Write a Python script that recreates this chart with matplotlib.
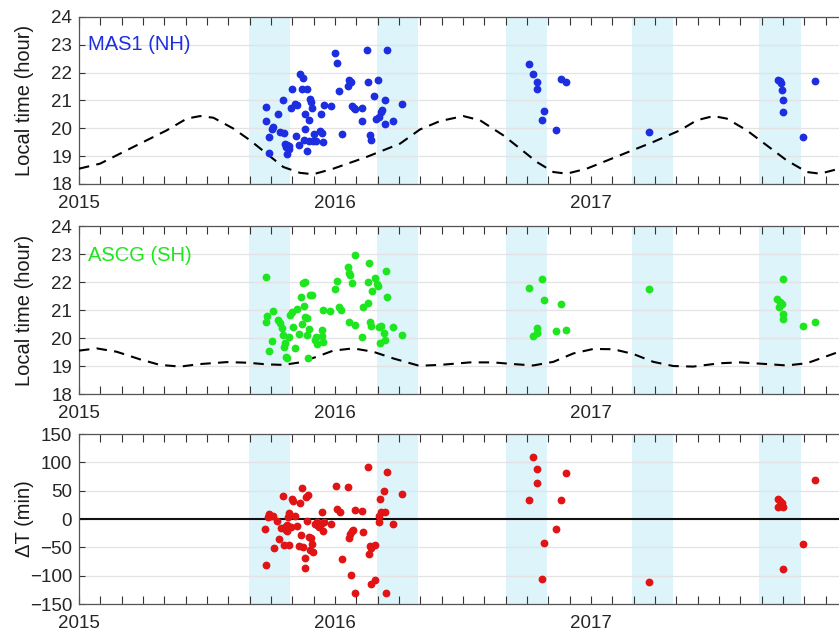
#local time of events at MAS1 (NH) and ASCG (SH) and their difference
import numpy as np
import matplotlib.pyplot as plt
from matplotlib.ticker import MultipleLocator

plt.rcParams['font.family'] = ['Liberation Sans', 'DejaVu Sans']

#shaded periods (decimal year)
shade_start = [2015.664, 2016.164, 2016.668, 2017.160, 2017.656]
shade_end = [2015.824, 2016.324, 2016.828, 2017.320, 2017.820]

#dashed reference curves (decimal year, hour)
nh_curve_t = [2015.000, 2015.082, 2015.212, 2015.343, 2015.421, 2015.473, 2015.525, 2015.603,
              2015.668, 2015.733, 2015.798, 2015.863, 2015.915, 2015.993, 2016.123, 2016.254,
              2016.332, 2016.410, 2016.501, 2016.566, 2016.657, 2016.723, 2016.788, 2016.853,
              2016.905, 2016.983, 2017.113, 2017.243, 2017.348, 2017.413, 2017.478, 2017.530,
              2017.608, 2017.686, 2017.764, 2017.843, 2017.895, 2017.969, 2018.000]
nh_curve_h = [18.55, 18.73, 19.33, 19.93, 20.35, 20.44, 20.38, 19.99,
              19.57, 19.09, 18.61, 18.40, 18.35, 18.55, 18.97, 19.45,
              19.96, 20.26, 20.44, 20.29, 19.75, 19.27, 18.79, 18.43,
              18.37, 18.55, 19.03, 19.51, 19.93, 20.29, 20.44, 20.35,
              19.93, 19.39, 18.85, 18.43, 18.37, 18.55, 18.64]

sh_curve_t = [2015.000, 2015.069, 2015.147, 2015.238, 2015.316, 2015.395, 2015.473, 2015.577,
              2015.655, 2015.733, 2015.798, 2015.863, 2015.928, 2015.993, 2016.071, 2016.149,
              2016.228, 2016.328, 2016.410, 2016.527, 2016.618, 2016.696, 2016.774, 2016.853,
              2016.931, 2017.009, 2017.087, 2017.165, 2017.243, 2017.321, 2017.399, 2017.504,
              2017.582, 2017.686, 2017.764, 2017.843, 2017.908, 2017.969, 2018.000]
sh_curve_h = [19.55, 19.63, 19.51, 19.24, 19.04, 18.98, 19.07, 19.14,
              19.12, 19.06, 19.04, 19.13, 19.33, 19.55, 19.63, 19.51,
              19.27, 19.01, 19.04, 19.13, 19.13, 19.07, 19.02, 19.15,
              19.45, 19.61, 19.60, 19.43, 19.15, 19.00, 18.98, 19.10,
              19.13, 19.07, 19.02, 19.10, 19.31, 19.51, 19.58]

#MAS1 (NH) events
nh_t = [2015.729, 2015.729, 2015.741, 2015.743, 2015.753, 2015.759, 2015.779, 2015.785, 2015.798, 2015.801,
        2015.806, 2015.809, 2015.811, 2015.814, 2015.819, 2015.822, 2015.827, 2015.832, 2015.845, 2015.848,
        2015.853, 2015.861, 2015.863, 2015.870, 2015.876, 2015.879, 2015.882, 2015.883, 2015.889, 2015.892,
        2015.897, 2015.900, 2015.902, 2015.905, 2015.910, 2015.913, 2015.918, 2015.926, 2015.941, 2015.944,
        2015.949, 2015.954, 2015.957, 2015.983, 2016.001, 2016.007, 2016.017, 2016.026, 2016.052, 2016.056,
        2016.061, 2016.065, 2016.074, 2016.079, 2016.105, 2016.105, 2016.126, 2016.130, 2016.137, 2016.139,
        2016.152, 2016.160, 2016.169, 2016.173, 2016.178, 2016.182, 2016.194, 2016.197, 2016.202, 2016.228,
        2016.262,
        2016.758, 2016.772, 2016.790, 2016.788, 2016.818, 2016.807, 2016.862, 2016.881, 2016.902, 2017.225,
        2017.729, 2017.738, 2017.742, 2017.746, 2017.751, 2017.749, 2017.828, 2017.875]
nh_h = [20.77, 20.26, 19.11, 19.69, 19.99, 20.05, 20.53, 19.87, 21.03, 19.84,
        19.45, 19.33, 19.09, 19.39, 19.27, 19.35, 20.74, 21.43, 20.89, 19.71,
        20.83, 19.39, 21.96, 21.43, 21.82, 19.57, 20.53, 19.99, 21.43, 19.19,
        20.31, 19.55, 21.05, 20.95, 20.74, 19.55, 19.78, 19.55, 19.90, 20.53,
        19.83, 19.51, 20.83, 20.81, 22.72, 22.35, 21.33, 19.78, 21.51, 21.75,
        21.66, 20.79, 20.74, 20.71, 20.74, 20.26, 22.80, 21.65, 19.75, 19.57,
        21.15, 20.35, 21.72, 20.41, 20.59, 20.65, 21.03, 20.14, 22.83, 20.26,
        20.86,
        22.31, 21.96, 21.65, 21.43, 20.62, 20.31, 19.95, 21.77, 21.65, 19.88,
        21.75, 21.70, 21.64, 21.39, 21.01, 20.60, 19.69, 21.70]

#ASCG (SH) events
sh_t = [2015.729, 2015.729, 2015.733, 2015.743, 2015.754, 2015.759, 2015.776, 2015.785, 2015.792, 2015.798,
        2015.801, 2015.805, 2015.809, 2015.811, 2015.819, 2015.824, 2015.831, 2015.837, 2015.844, 2015.850,
        2015.861, 2015.866, 2015.871, 2015.876, 2015.879, 2015.882, 2015.884, 2015.889, 2015.892, 2015.895,
        2015.897, 2015.902, 2015.910, 2015.921, 2015.926, 2015.931, 2015.948, 2015.949, 2015.952, 2015.954,
        2015.980, 2016.000, 2016.007, 2016.014, 2016.022, 2016.052, 2016.055, 2016.059, 2016.066, 2016.053,
        2016.077, 2016.079, 2016.105, 2016.108, 2016.130, 2016.130, 2016.134, 2016.137, 2016.139, 2016.143,
        2016.155, 2016.163, 2016.169, 2016.173, 2016.176, 2016.181, 2016.191, 2016.195, 2016.199, 2016.202,
        2016.228, 2016.260,
        2016.758, 2016.807, 2016.818, 2016.788, 2016.772, 2016.790, 2016.862, 2016.881, 2016.902, 2017.225,
        2017.749, 2017.726, 2017.738, 2017.733, 2017.745, 2017.749, 2017.751, 2017.828, 2017.875]
sh_h = [22.19, 20.58, 20.79, 19.55, 19.89, 20.96, 20.64, 20.52, 20.37, 20.11,
        19.69, 19.81, 19.33, 19.27, 20.05, 20.82, 20.94, 20.40, 19.65, 21.02,
        20.14, 21.48, 20.50, 21.95, 21.15, 22.01, 20.76, 20.70, 20.11, 19.27,
        20.31, 21.54, 21.54, 19.93, 20.05, 19.79, 20.29, 20.07, 19.87, 21.00,
        20.98, 21.74, 22.05, 21.12, 21.00, 22.52, 22.31, 22.25, 21.98, 20.58,
        22.96, 20.46, 20.02, 21.12, 21.26, 22.01, 22.69, 20.58, 20.43, 21.69,
        22.15, 21.93, 21.86, 20.40, 19.81, 20.43, 20.19, 19.93, 22.40, 21.45,
        20.40, 20.11,
        21.77, 22.11, 21.36, 20.37, 20.08, 20.17, 20.26, 21.23, 20.30, 21.75,
        22.11, 21.40, 21.30, 21.12, 21.20, 20.86, 20.68, 20.42, 20.57]

#time difference (min)
dt_t = [2015.728, 2015.729, 2015.740, 2015.743, 2015.749, 2015.756, 2015.762, 2015.775, 2015.783, 2015.788,
        2015.798, 2015.801, 2015.806, 2015.809, 2015.811, 2015.814, 2015.818, 2015.819, 2015.822, 2015.827,
        2015.832, 2015.837, 2015.845, 2015.850, 2015.861, 2015.863, 2015.868, 2015.871, 2015.876, 2015.882,
        2015.882, 2015.887, 2015.889, 2015.895, 2015.897, 2015.902, 2015.908, 2015.910, 2015.915, 2015.922,
        2015.928, 2015.931, 2015.939, 2015.944, 2015.949, 2015.952, 2015.957, 2015.983, 2016.003, 2016.009,
        2016.020, 2016.026, 2016.052, 2016.056, 2016.059, 2016.065, 2016.061, 2016.072, 2016.077, 2016.078,
        2016.105, 2016.108, 2016.130, 2016.133, 2016.137, 2016.139, 2016.142, 2016.155, 2016.158, 2016.171,
        2016.173, 2016.176, 2016.181, 2016.191, 2016.195, 2016.199, 2016.202, 2016.228, 2016.260,
        2016.772, 2016.790, 2016.902, 2016.788, 2016.758, 2016.881, 2016.862, 2016.818, 2016.807, 2017.225,
        2017.875, 2017.729, 2017.738, 2017.745, 2017.729, 2017.749, 2017.828, 2017.749]
dt_min = [-17, -81, 3, 9, 5, 5, -52, -3, -36, -16,
          41, -46, -14, -19, -22, -11, 4, -46, 10, -14,
          36, 31, 5, -12, -48, 29, -29, 54, -49, -69,
          -86, 38, -3, 42, -31, -54, -34, -44, -59, -8,
          -5, -11, -14, -8, 12, -21, -6, -9, 58, 17,
          12, -71, 56, -33, -26, -22, -99, -19, -131, 16,
          15, -23, 92, -62, -48, -52, -115, -45, -108, 5,
          -5, 35, 13, 49, 13, -131, 83, -9, 45,
          110, 88, 81, 64, 33, 33, -18, -42, -105, -111,
          68, 36, 32, 28, 21, 22, -44, -89]

year_ticks = [2015, 2016, 2017]

fig = plt.figure(figsize=(8.39, 6.34), dpi=100)
ax1 = fig.add_axes([0.0942, 0.7098, 0.9154, 0.2634])
ax2 = fig.add_axes([0.0942, 0.3785, 0.9154, 0.2650])
ax3 = fig.add_axes([0.0942, 0.0473, 0.9154, 0.2681])

for ax in [ax1, ax2, ax3]:
    for s, e in zip(shade_start, shade_end):
        ax.axvspan(s, e, color='#dcf4fa', lw=0, zorder=0)
    ax.set_xlim(2015, 2018)
    ax.set_xticks(year_ticks)
    ax.set_xticklabels([str(y) for y in year_ticks])
    ax.xaxis.set_minor_locator(MultipleLocator(1 / 12))
    ax.tick_params(axis='x', which='both', direction='in', top=True, length=6, width=0.8,
                   color='#333333', labelsize=13.5, labelcolor='#262626', pad=8)
    ax.tick_params(axis='y', which='both', direction='in', right=True, length=4, width=0.8,
                   color='#333333', labelsize=13.5, labelcolor='#262626', pad=5)
    ax.grid(axis='y', color='#e3e3e3', lw=0.9, zorder=1)
    ax.set_axisbelow(True)
    for sp in ax.spines.values():
        sp.set_color('#555555')
        sp.set_linewidth(0.9)

#top panel
ax1.plot(nh_curve_t, nh_curve_h, color='k', lw=1.5, ls=(0, (5, 3.5)), zorder=3)
ax1.plot(nh_t, nh_h, 'o', ms=4.6, color='#1c2ee0', zorder=4)
ax1.set_ylim(18, 24)
ax1.set_yticks(range(18, 25))
ax1.text(2015.035, 23.0, 'MAS1 (NH)', color='#1c2ee0', fontsize=14.5, va='center')
ax1.set_ylabel('Local time (hour)', fontsize=14.5, color='#1a1a1a')
ax1.yaxis.set_label_coords(-0.058, 0.5)

#middle panel
ax2.plot(sh_curve_t, sh_curve_h, color='k', lw=1.5, ls=(0, (5, 3.5)), zorder=3)
ax2.plot(sh_t, sh_h, 'o', ms=4.6, color='#1ee61e', zorder=4)
ax2.set_ylim(18, 24)
ax2.set_yticks(range(18, 25))
ax2.text(2015.035, 22.96, 'ASCG (SH)', color='#1ee61e', fontsize=14.5, va='center')
ax2.set_ylabel('Local time (hour)', fontsize=14.5, color='#1a1a1a')
ax2.yaxis.set_label_coords(-0.058, 0.5)

#bottom panel
ax3.axhline(0, color='#111111', lw=1.5, zorder=2)
ax3.plot(dt_t, dt_min, 'o', ms=4.6, color='#e01414', zorder=4)
ax3.set_ylim(-150, 150)
ax3.set_yticks(range(-150, 151, 50))
ax3.set_ylabel('\u0394T (min)', fontsize=14.5, color='#1a1a1a')
ax3.yaxis.set_label_coords(-0.058, 0.5)

plt.savefig('out.png', dpi=100)
